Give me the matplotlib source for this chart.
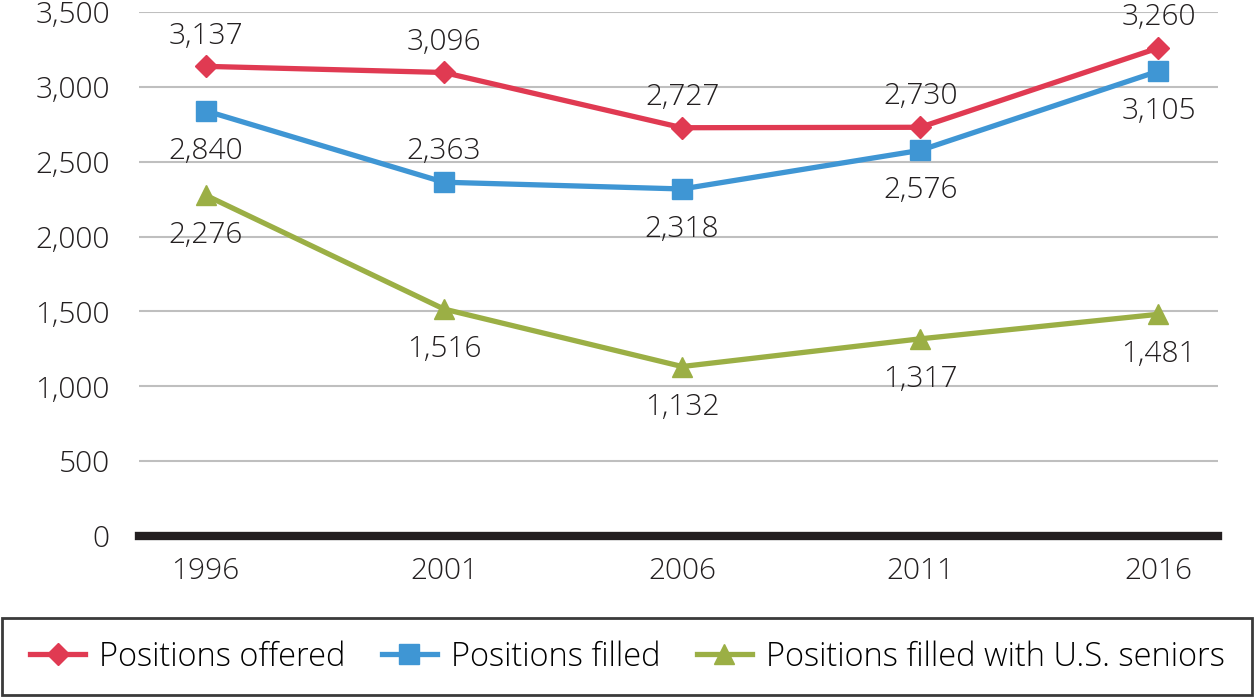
import matplotlib
matplotlib.use('AGG')
import matplotlib.pyplot as plt
from matplotlib.patches import Rectangle

# data
years = ["1996", "2001", "2006", "2011", "2016"]
offered = [3137, 3096, 2727, 2730, 3260]
filled = [2840, 2363, 2318, 2576, 3105]
filled_us = [2276, 1516, 1132, 1317, 1481]

# label placement per point: +1 above, -1 below
offered_side = [1, 1, 1, 1, 1]
filled_side = [-1, 1, -1, -1, -1]
filled_us_side = [-1, -1, -1, -1, -1]

plt.rcParams['font.family'] = ['Open Sans', 'DejaVu Sans']
plt.rcParams['font.weight'] = 'light'

RED = '#E03A52'
BLUE = '#3F96D4'
GREEN = '#9BAF45'
INK = '#231F20'
FS = 21.5

fig = plt.figure(figsize=(12.55, 6.98), dpi=100)
ax = fig.add_axes([139 / 1255, 1 - 536 / 698, (1218 - 139) / 1255, (536 - 12) / 698])

xs = range(len(years))
series = [
    ("Positions offered", offered, offered_side, RED, 'D', 11),
    ("Positions filled", filled, filled_side, BLUE, 's', 15),
    ("Positions filled with U.S. seniors", filled_us, filled_us_side, GREEN, '^', 15),
]

for name, vals, sides, col, mk, ms in series:
    ax.plot(xs, vals, color=col, lw=3.8, marker=mk, markersize=ms,
            label=name, zorder=3, solid_joinstyle='round')
    for x, v, s in zip(xs, vals, sides):
        dy = 22 if s > 0 else -29
        ax.annotate("{:,}".format(v), (x, v), xytext=(0, dy),
                    textcoords='offset points', ha='center', va='center',
                    fontsize=FS, color=INK)

ax.set_xlim(-0.28, 4.25)
ax.set_ylim(0, 3500)
ax.set_yticks(range(0, 3501, 500))
ax.set_yticklabels(["{:,}".format(v) for v in range(0, 3501, 500)])
ax.set_xticks(list(xs))
ax.set_xticklabels(years)
ax.tick_params(length=0, labelsize=FS, colors=INK)
ax.tick_params(axis='y', pad=21)
ax.tick_params(axis='x', pad=15)
ax.grid(axis='y', color='#BFBFBF', lw=1.5)
ax.set_axisbelow(True)
for sp in ax.spines.values():
    sp.set_visible(False)
ax.axhline(0, color=INK, lw=6, zorder=2, clip_on=False)

fig.patches.append(Rectangle((2 / 1255, 3 / 698), 1250 / 1255, 77 / 698,
                             transform=fig.transFigure, fill=False,
                             edgecolor='#3A3A3A', lw=2))
fig.legend(loc='center', bbox_to_anchor=(0.5, 1 - 657 / 698), ncol=3,
           frameon=False, fontsize=23.5, handlelength=1.7,
           handletextpad=0.43, columnspacing=1.1)

fig.savefig('out.png', dpi=100)
